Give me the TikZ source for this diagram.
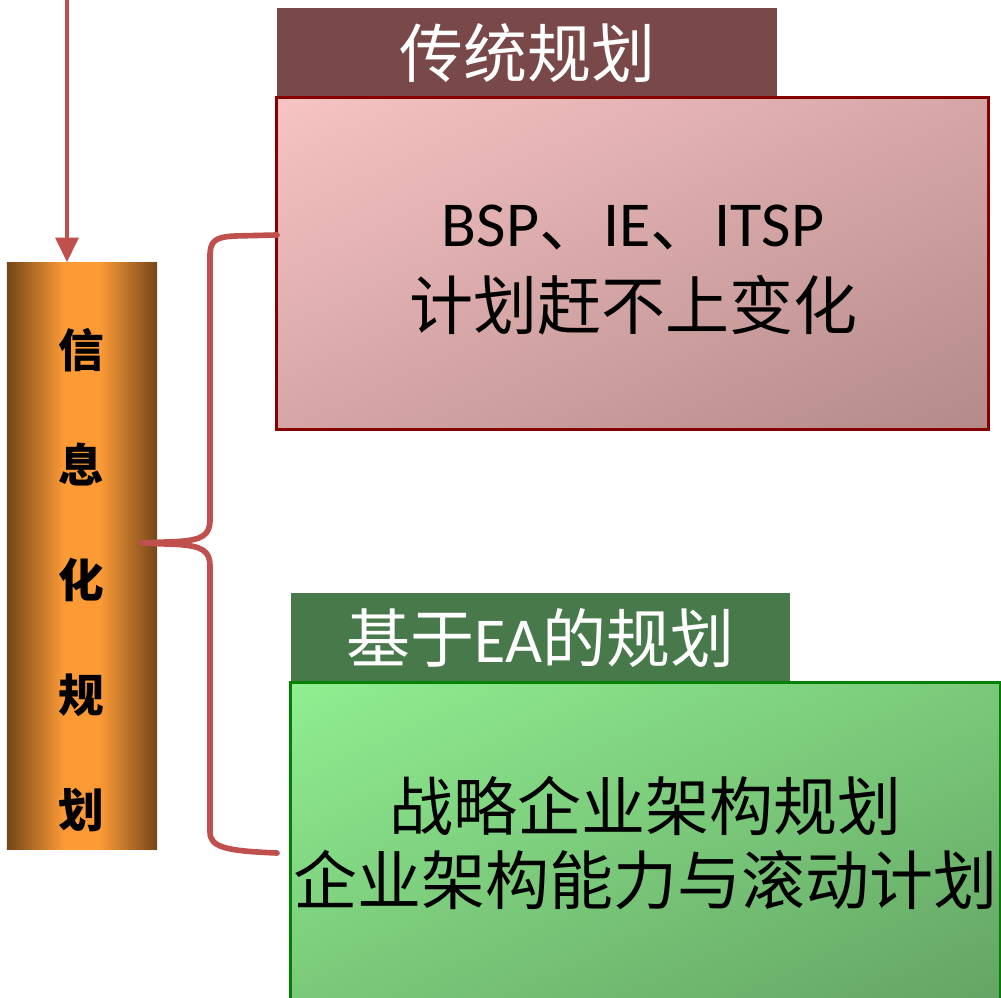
\documentclass[tikz,border=0pt]{standalone}
\usepackage{fontspec}
\setmainfont{Carlito}
\newfontfamily\cjk{Noto Sans CJK SC}
\usetikzlibrary{arrows.meta,shadings}
\definecolor{linered}{RGB}{192,80,77}
\definecolor{headbrown}{RGB}{121,73,74}
\definecolor{pinkborder}{RGB}{135,0,0}
\definecolor{pinkA}{RGB}{247,195,195}
\definecolor{pinkB}{RGB}{180,138,138}
\definecolor{pinkM}{RGB}{214,166,166}
\definecolor{headgreen}{RGB}{72,121,75}
\definecolor{greenborder}{RGB}{0,128,0}
\definecolor{greenA}{RGB}{144,238,144}
\definecolor{greenB}{RGB}{100,164,100}
\definecolor{greenM}{RGB}{122,201,122}
\definecolor{bardark}{RGB}{116,70,25}
\definecolor{barorange}{RGB}{252,154,54}
\pgfdeclarehorizontalshading{barshade}{100bp}{color(0bp)=(bardark); color(25bp)=(bardark); color(44bp)=(barorange); color(56bp)=(barorange); color(75bp)=(bardark); color(100bp)=(bardark)}
\begin{document}
\begin{tikzpicture}[x=0.01cm,y=-0.01cm,
  bigtxt/.style={font=\fontsize{18.2}{21.5}\selectfont, align=center, inner sep=0pt},
  headbox/.style={minimum height=0.9cm, inner sep=0pt, text=white, font=\fontsize{18.2}{21.5}\selectfont},
  bracestyle/.style={draw=linered, line width=1.6pt, line cap=round, line join=round}]
\useasboundingbox (0,0) rectangle (1001,998);
\clip (0,0) rectangle (1001,998);

% bar
\node[shade, shading=barshade, minimum width=1.5cm, minimum height=5.86cm, inner sep=0pt] (bar) at (82,556) {};
\node[font=\cjk\bfseries\fontsize{13}{32.7}\selectfont, align=center, inner sep=0pt] (bartxt) at (81,580) {信\\息\\化\\规\\划};

% arrow
\coordinate (arrtop) at (67,-5);
\draw[linered, line width=1.15pt, -{Triangle[length=7pt,width=6.5pt]}] (arrtop) -- (arrtop |- bar.north);

% top header and box
\node[headbox, fill=headbrown, minimum width=5cm] (pinkhead) at (527,53) {\cjk 传统规划};
\node[draw=pinkborder, line width=0.85pt, minimum width=7.11cm, minimum height=3.31cm,
      upper left=pinkA, lower right=pinkB, upper right=pinkM, lower left=pinkM, inner sep=0pt] (pinkbox) at (632.5,263.5) {};
\node[bigtxt, font=\fontsize{18.2}{23.5}\selectfont] (pinktxt) at (633,270) {BSP{\cjk 、}IE{\cjk 、}ITSP\\{\cjk 计划赶不上变化}};

% bottom header and box
\node[headbox, fill=headgreen, minimum width=4.99cm] (greenhead) at (540.5,638) {{\cjk 基于}EA{\cjk 的规划}};
\node[draw=greenborder, line width=0.85pt, minimum width=7.09cm, minimum height=3.2cm,
      upper left=greenA, lower right=greenB, upper right=greenM, lower left=greenM, inner sep=0pt] (greenbox) at (645.5,843) {};
\node[bigtxt, font=\cjk\fontsize{18.2}{21.3}\selectfont] (greentxt) at (645.5,843) {战略企业架构规划\\企业架构能力与滚动计划};

% brace
\coordinate (braceTop) at (277,235);
\coordinate (braceTip) at (142,543);
\coordinate (braceBot) at (277,853);
\draw[bracestyle] (braceTop) -- (235,236) .. controls (215,237) and (210,241) .. (210,256)
  -- (210,520) .. controls (210,535) and (202,540) .. (178,541.5) -- (braceTip)
  -- (178,544.5) .. controls (202,546) and (210,551) .. (210,566)
  -- (210,832) .. controls (210,847) and (225,851) .. (braceBot);
\end{tikzpicture}
\end{document}
